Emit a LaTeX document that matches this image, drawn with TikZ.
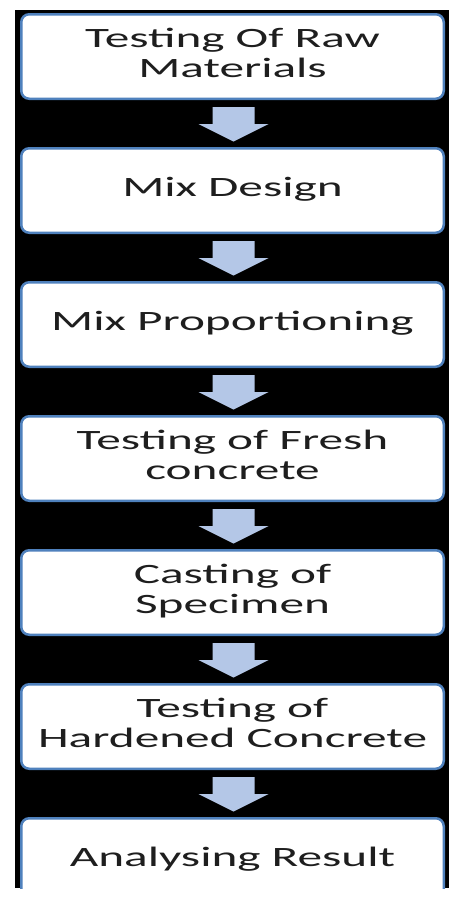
\documentclass[tikz,border=0pt]{standalone}
\usepackage{fontspec}
\usepackage{graphicx}
\setmainfont{Carlito}
\usetikzlibrary{calc}
\definecolor{frameblue}{RGB}{79,129,189}
\definecolor{arrowblue}{RGB}{180,199,231}
\definecolor{inkgray}{RGB}{30,30,30}
% wide, centred step caption
\newcommand\steptext[1]{\raisebox{2pt}{\scalebox{1.76}[1]{\begin{tabular}{@{}c@{}}#1\end{tabular}}}}

\begin{document}
\begin{tikzpicture}[x=1pt,y=-1pt,
  stepbox/.style={draw=frameblue, line width=2.5pt, fill=white, rounded corners=8pt,
    minimum width=422.5pt, minimum height=84.5pt, inner sep=0pt,
    font=\fontsize{28}{30}\selectfont, text=inkgray},
  flow/.style={fill=arrowblue}]
\useasboundingbox (0,0) rectangle (449,898);
\fill[white] (0,0) rectangle (449,898);
\fill[black] (15,10) rectangle (449,888);

\begin{scope}
  \clip (15,10) rectangle (449,888);
  \node[stepbox] (b1) at (232.5,56.5)  {\steptext{Testing Of Raw\\Materials}};
  \node[stepbox] (b2) at (232.5,190.5) {\steptext{Mix Design}};
  \node[stepbox] (b3) at (232.5,324.5) {\steptext{Mix Proportioning}};
  \node[stepbox] (b4) at (232.5,458.5) {\steptext{Testing of Fresh\\concrete}};
  \node[stepbox] (b5) at (232.5,592.5) {\steptext{Casting of\\Specimen}};
  \node[stepbox] (b6) at (232.5,726.5) {\steptext{Testing of\\Hardened Concrete}};
  \node[stepbox] (b7) at (232.5,860.5) {\steptext{Analysing Result}};
\end{scope}

% block arrows between consecutive steps
\foreach \a/\b in {b1/b2,b2/b3,b3/b4,b4/b5,b5/b6,b6/b7}{
  \fill[flow] ($(\a.south)+(-20,7)$) -- ($(\a.south)+(22,7)$) -- ($(\a.south)+(22,24)$)
    -- ($(\a.south)+(36,24)$) -- ($(\a.south)!0.5!(\b.north)+(1,18)$)
    -- ($(\a.south)+(-34,24)$) -- ($(\a.south)+(-20,24)$) -- cycle;
}
\end{tikzpicture}
\end{document}
